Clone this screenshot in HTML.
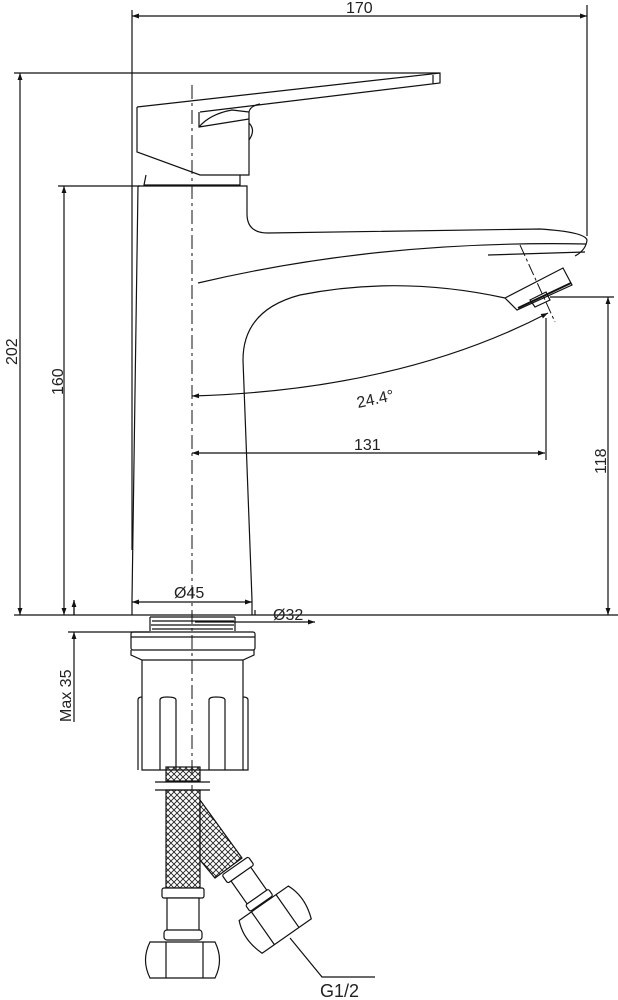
<!DOCTYPE html>
<html><head><style>
html,body{margin:0;padding:0;background:#fff}
svg{display:block}
text{font-family:"Liberation Sans",sans-serif;font-size:16px;fill:#222}
</style></head><body>
<svg width="618" height="1000" viewBox="0 0 618 1000" xmlns="http://www.w3.org/2000/svg">
<defs>
<marker id="a" viewBox="0 0 10 10" refX="10" refY="5" markerWidth="10" markerHeight="7" orient="auto-start-reverse" markerUnits="userSpaceOnUse"><path d="M0,1.5L10,5L0,8.5z" fill="#111"/></marker>
<pattern id="mesh" width="6" height="6" patternUnits="userSpaceOnUse"><path d="M0,0L6,6M6,0L0,6" stroke="#222" stroke-width="0.9"/></pattern>
</defs>
<g stroke="#111" stroke-width="1.2" fill="none">
<!-- dims -->
<line x1="132" y1="10" x2="132" y2="550"/>
<line x1="587" y1="5" x2="587" y2="236"/>
<line x1="132" y1="16" x2="587" y2="16" marker-start="url(#a)" marker-end="url(#a)"/>
<line x1="14" y1="73" x2="440" y2="73"/>
<line x1="20" y1="73" x2="20" y2="615" marker-start="url(#a)" marker-end="url(#a)"/>
<line x1="58" y1="186" x2="140" y2="186"/>
<line x1="64" y1="186" x2="64" y2="615" marker-start="url(#a)" marker-end="url(#a)"/>
<line x1="14" y1="615" x2="618" y2="615"/>
<line x1="550" y1="297" x2="614" y2="297"/>
<line x1="608" y1="297" x2="608" y2="615" marker-start="url(#a)" marker-end="url(#a)"/>
<line x1="546" y1="318" x2="546" y2="460"/>
<line x1="192" y1="453" x2="545" y2="453" marker-start="url(#a)" marker-end="url(#a)"/>
<path d="M192,396 Q400,390 548,313" marker-start="url(#a)" marker-end="url(#a)"/>
<line x1="520" y1="245" x2="555" y2="322" stroke-dasharray="12,3,3,3" stroke-width="1"/>
<line x1="132" y1="602" x2="252" y2="602" marker-start="url(#a)" marker-end="url(#a)"/>
<line x1="195" y1="622" x2="315" y2="622" marker-end="url(#a)"/>
<line x1="255" y1="615" x2="255" y2="610"/>
<line x1="68" y1="632" x2="150" y2="632"/>
<line x1="74" y1="615" x2="74" y2="600" />
<line x1="74" y1="615" x2="74" y2="600" marker-end="url(#a)"/>
<line x1="74" y1="722" x2="74" y2="632" marker-end="url(#a)"/>
<!-- centerline -->
<line x1="192" y1="85" x2="192" y2="790" stroke-dasharray="14,4,3,4" stroke-width="1"/>
<!-- handle -->
<path d="M137,107 L440,73 L440,83 L200,112"/>
<path d="M137,107 L137,152 L200,175 L249,175 L249,112 Q250,106 260,104"/>
<path d="M199,127 Q210,114 232,110 L249,112 M199,112 L199,127 L249,119"/>
<path d="M249,123 Q256,130 249,140"/>
<line x1="433" y1="75" x2="433" y2="84"/>
<path d="M146,175 L144,185 L240,185 L240,175"/>
<!-- body -->
<path d="M138,186 L247,186 L247,214 Q247,233 268,233 L540,229 Q585,232 587,240 Q586,250 575,256"/>
<path d="M198,283 Q380,240 586,244"/>
<path d="M488,255 L585,252"/>
<path d="M138,186 L132,600 L132,615"/>
<path d="M252,615 L252,600 L243,360 Q243,310 300,295 Q400,275 505,298"/>
<!-- aerator -->
<path d="M505,298 L563,268 L572,285 L517,310 Z"/>
<path d="M530,300 L546,292 L550,300 L535,307 Z"/>
<path d="M518,308 L571,283" stroke-width="2"/>
<!-- thread / nut -->
<path d="M150,617 L235,617 M152,621 L234,621 M151,625 L234,625 M152,629 L233,629"/>
<path d="M150,617 L150,631 M235,617 L235,631"/>
<rect x="131" y="632" width="124" height="18" rx="2"/>
<line x1="131" y1="637" x2="255" y2="637"/>
<path d="M131,650 L131,655 L142,660 L243,660 L254,655 L254,650"/>
<path d="M142,660 L142,770 L243,770 L243,660"/>
<path d="M138,770 L138,700 Q138,697 142,697 M243,697 Q248,697 248,700 L248,770 L243,770"/>
<path d="M160,770 L160,700 Q160,697 167,697 Q176,697 176,700 L176,770"/>
<path d="M209,770 L209,700 Q209,697 216,697 Q225,697 225,700 L225,770"/>
</g>
<!-- hoses -->
<g stroke="#111" stroke-width="1.2">
<rect x="166" y="767" width="34" height="14" fill="url(#mesh)"/>
<line x1="155" y1="782" x2="210" y2="782"/>
<line x1="155" y1="790" x2="210" y2="790"/>
<rect x="166" y="790" width="34" height="98" fill="url(#mesh)"/>
<path d="M200,800 L242,858 L215,878 L200,860 Z" fill="url(#mesh)"/>
<g fill="#fff">
<rect x="162" y="888" width="42" height="10" rx="2"/>
<rect x="167" y="898" width="32" height="34"/>
<rect x="164" y="930" width="38" height="10" rx="3"/>
<path d="M150,942 L215,942 Q224,960 215,978 L150,978 Q141,960 150,942 Z"/>
<line x1="166" y1="942" x2="166" y2="978"/><line x1="203" y1="942" x2="203" y2="978"/>
<g transform="translate(238,870) rotate(-35)">
<rect x="-16" y="-5" width="32" height="10" rx="2"/>
<rect x="-12" y="5" width="24" height="34"/>
<rect x="-14" y="33" width="28" height="8" rx="2"/>
<path d="M-28,42 L32,42 Q40,60 32,82 L-28,82 Q-36,60 -28,42 Z"/>
<line x1="-13" y1="42" x2="-13" y2="82"/><line x1="17" y1="42" x2="17" y2="82"/>
</g>
</g>
<path d="M290,938 L322,977 L375,977" fill="none"/>
</g>
<!-- texts -->
<text x="346" y="13">170</text>
<text transform="translate(17,365) rotate(-90)">202</text>
<text transform="translate(63,395) rotate(-90)">160</text>
<text transform="translate(606,474) rotate(-90)">118</text>
<text x="354" y="450">131</text>
<text transform="translate(358,408) rotate(-12)">24.4°</text>
<text x="174" y="598">Ø45</text>
<text x="273" y="620">Ø32</text>
<text transform="translate(71,722) rotate(-90)">Max 35</text>
<text x="320" y="997" style="font-size:18px">G1/2</text>
</svg>
</body></html>
